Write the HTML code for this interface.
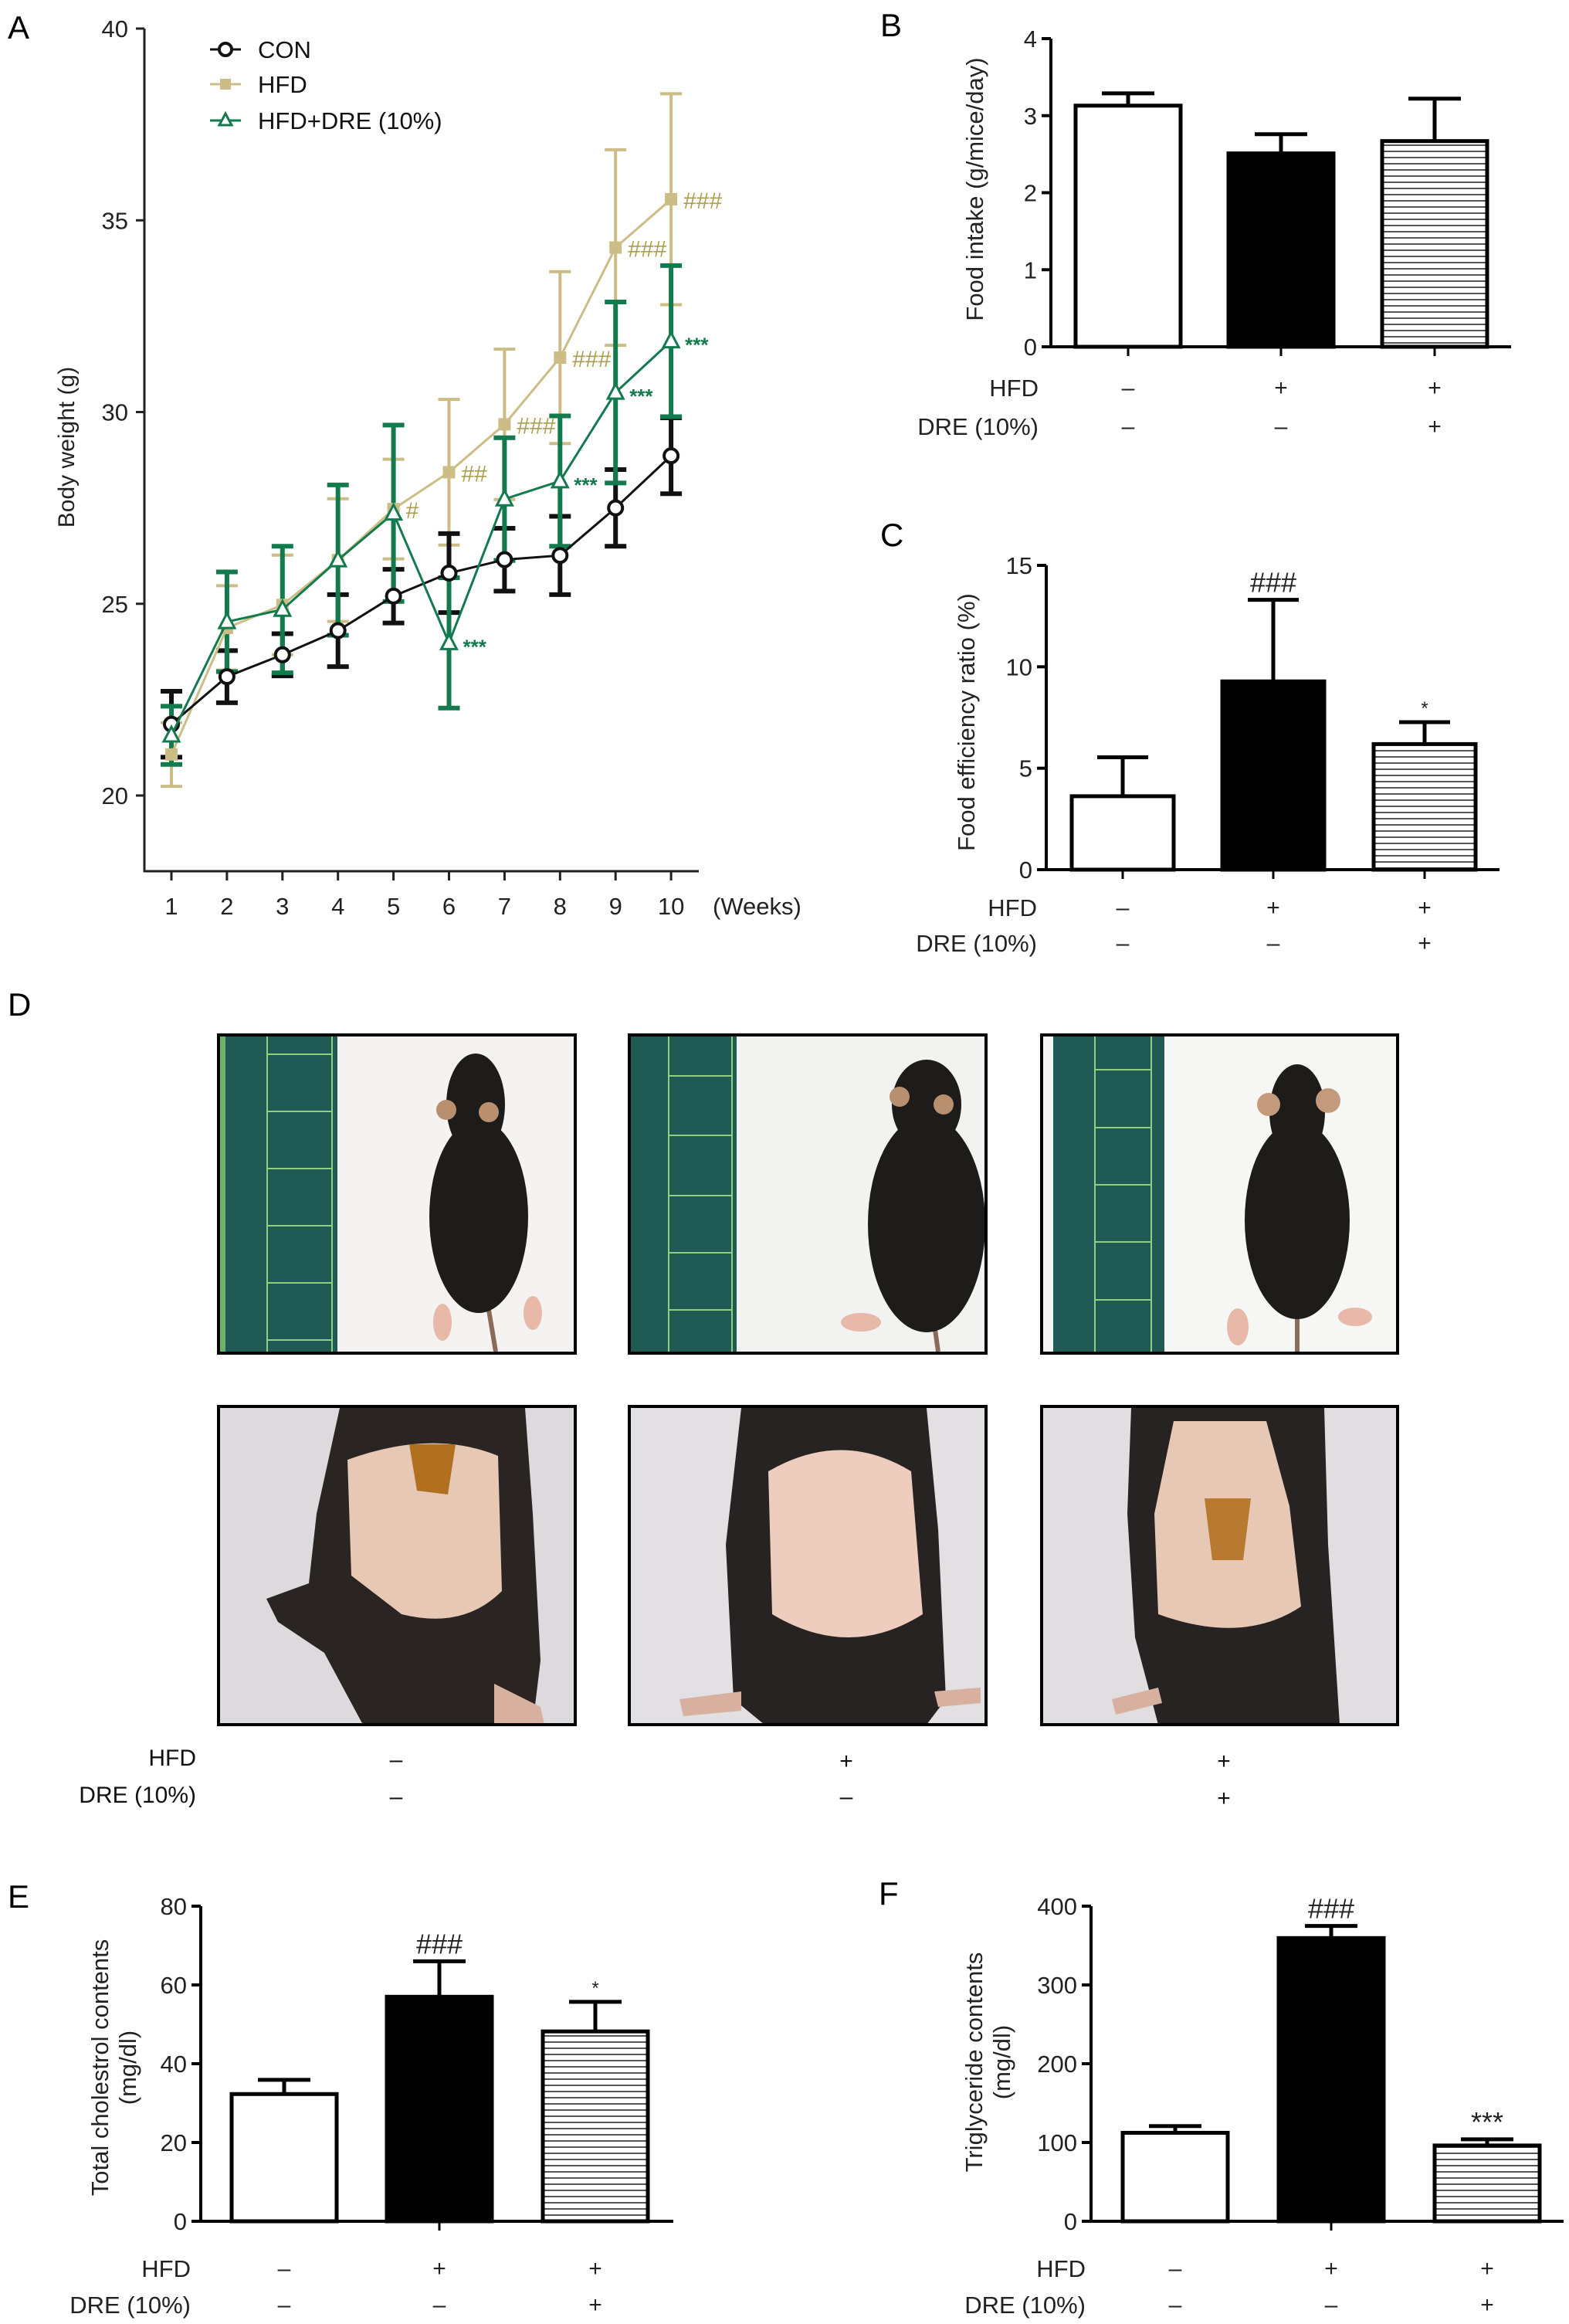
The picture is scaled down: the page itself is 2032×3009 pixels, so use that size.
<!DOCTYPE html>
<html><head><meta charset="utf-8"><style>
html,body{margin:0;padding:0;background:#fff;}
svg{display:block;font-family:"Liberation Sans",Arial,sans-serif;}
</style></head><body>
<svg id="fig" width="2032" height="3009" viewBox="0 0 2032 3009" xmlns="http://www.w3.org/2000/svg">
<defs>
<pattern id="hatch" patternUnits="userSpaceOnUse" width="10" height="8"><rect width="10" height="8" fill="#fff"/><line x1="0" y1="4" x2="10" y2="4" stroke="#555" stroke-width="2"/></pattern>
</defs>
<rect width="2032" height="3009" fill="#fff"/>
<!-- Panel letters -->
<text x="10" y="50" font-size="42">A</text>
<text x="1140" y="47" font-size="42">B</text>
<text x="1140" y="707" font-size="42">C</text>
<text x="10" y="1315" font-size="42">D</text>
<text x="10" y="2470" font-size="42">E</text>
<text x="1138" y="2466" font-size="42">F</text>

<g id="panelA"></g>
<g id="panelB"></g>
<g id="panelC"></g>
<g id="panelE"></g>
<g id="panelF"></g>

<!-- Panel D photos -->
<g>
  <g>
    <rect x="283" y="1340" width="462" height="412" fill="#f4f3f1"/>
    <rect x="285" y="1342" width="152" height="408" fill="#1f5a55"/>
    <rect x="285" y="1342" width="7" height="408" fill="#6fb36a"/>
    <line x1="346" y1="1342" x2="346" y2="1750" stroke="#8fd080" stroke-width="2"/>
    <line x1="430" y1="1342" x2="430" y2="1750" stroke="#8fd080" stroke-width="2"/>
    <g stroke="#8fd080" stroke-width="2"><line x1="346" y1="1365" x2="430" y2="1365"/><line x1="346" y1="1439" x2="430" y2="1439"/><line x1="346" y1="1513" x2="430" y2="1513"/><line x1="346" y1="1587" x2="430" y2="1587"/><line x1="346" y1="1661" x2="430" y2="1661"/><line x1="346" y1="1735" x2="430" y2="1735"/></g>
    <line x1="632" y1="1690" x2="642" y2="1750" stroke="#8a6a5a" stroke-width="6"/>
    <ellipse cx="573" cy="1712" rx="12" ry="24" fill="#e8b8a8"/><ellipse cx="690" cy="1700" rx="12" ry="22" fill="#e8b8a8"/>
    <ellipse cx="620" cy="1575" rx="64" ry="125" fill="#1e1b1b"/>
    <ellipse cx="616" cy="1430" rx="38" ry="66" fill="#1e1b1b"/>
    <circle cx="578" cy="1437" r="13" fill="#b89070"/><circle cx="633" cy="1440" r="13" fill="#b89070"/>
    <rect x="283" y="1340" width="462" height="412" fill="none" stroke="#000" stroke-width="4"/>
  </g>
  <g>
    <rect x="815" y="1340" width="462" height="412" fill="#f2f2f0"/>
    <rect x="817" y="1342" width="137" height="408" fill="#1f5a55"/>
    <line x1="866" y1="1342" x2="866" y2="1750" stroke="#8fd080" stroke-width="2"/>
    <line x1="948" y1="1342" x2="948" y2="1750" stroke="#8fd080" stroke-width="2"/>
    <g stroke="#8fd080" stroke-width="2"><line x1="866" y1="1393" x2="948" y2="1393"/><line x1="866" y1="1470" x2="948" y2="1470"/><line x1="866" y1="1548" x2="948" y2="1548"/><line x1="866" y1="1622" x2="948" y2="1622"/><line x1="866" y1="1696" x2="948" y2="1696"/></g>
    <line x1="1208" y1="1700" x2="1215" y2="1750" stroke="#8a6a5a" stroke-width="6"/>
    <ellipse cx="1115" cy="1712" rx="26" ry="12" fill="#e8b8a8"/>
    <ellipse cx="1200" cy="1585" rx="76" ry="140" fill="#1e1b1b"/>
    <ellipse cx="1200" cy="1430" rx="45" ry="58" fill="#1e1b1b"/>
    <circle cx="1165" cy="1420" r="13" fill="#b89070"/><circle cx="1222" cy="1430" r="13" fill="#b89070"/>
    <rect x="815" y="1340" width="462" height="412" fill="none" stroke="#000" stroke-width="4"/>
  </g>
  <g>
    <rect x="1349" y="1340" width="461" height="412" fill="#f6f6f4"/>
    <rect x="1364" y="1342" width="144" height="408" fill="#1f5a55"/>
    <line x1="1418" y1="1342" x2="1418" y2="1750" stroke="#8fd080" stroke-width="2"/>
    <line x1="1491" y1="1342" x2="1491" y2="1750" stroke="#8fd080" stroke-width="2"/>
    <g stroke="#8fd080" stroke-width="2"><line x1="1418" y1="1385" x2="1491" y2="1385"/><line x1="1418" y1="1460" x2="1491" y2="1460"/><line x1="1418" y1="1534" x2="1491" y2="1534"/><line x1="1418" y1="1608" x2="1491" y2="1608"/><line x1="1418" y1="1683" x2="1491" y2="1683"/></g>
    <line x1="1680" y1="1700" x2="1680" y2="1750" stroke="#8a6a5a" stroke-width="6"/>
    <ellipse cx="1603" cy="1718" rx="14" ry="24" fill="#e8b8a8"/><ellipse cx="1755" cy="1705" rx="22" ry="12" fill="#e8b8a8"/>
    <ellipse cx="1680" cy="1580" rx="68" ry="128" fill="#1e1b1b"/>
    <ellipse cx="1680" cy="1440" rx="36" ry="62" fill="#1e1b1b"/>
    <circle cx="1643" cy="1430" r="15" fill="#c49a7c"/><circle cx="1720" cy="1425" r="16" fill="#c49a7c"/>
    <rect x="1349" y="1340" width="461" height="412" fill="none" stroke="#000" stroke-width="4"/>
  </g>
  <g>
    <rect x="283" y="1821" width="462" height="412" fill="#dcdadd"/>
    <path d="M440,1823 L680,1823 L690,1960 L700,2150 L690,2233 L470,2233 L420,2140 L360,2100 L345,2070 L400,2050 L410,1960 Z" fill="#2a2422"/>
    <path d="M640,2180 L700,2210 L705,2233 L640,2233 Z" fill="#d8b0a0"/>
    <path d="M450,1890 Q560,1850 645,1885 L650,2060 Q600,2110 520,2090 L455,2040 Z" fill="#e6c8b4"/>
    <path d="M530,1870 L590,1870 L580,1935 L540,1930 Z" fill="#b07020"/>
    <rect x="283" y="1821" width="462" height="412" fill="none" stroke="#000" stroke-width="4"/>
  </g>
  <g>
    <rect x="815" y="1821" width="462" height="412" fill="#e2e0e2"/>
    <path d="M960,1823 L1200,1823 L1215,1980 L1225,2200 L1200,2233 L990,2233 L950,2200 L940,2000 Z" fill="#262322"/>
    <path d="M880,2200 L960,2190 L960,2215 L885,2222 Z" fill="#d8b0a0"/><path d="M1210,2190 L1270,2185 L1270,2205 L1215,2210 Z" fill="#d8b0a0"/>
    <path d="M995,1905 Q1090,1850 1180,1905 L1195,2090 Q1100,2150 1000,2090 Z" fill="#efcdbe"/>
    <rect x="815" y="1821" width="462" height="412" fill="none" stroke="#000" stroke-width="4"/>
  </g>
  <g>
    <rect x="1349" y="1821" width="461" height="412" fill="#e0dee0"/>
    <path d="M1465,1823 L1715,1823 L1720,2000 L1735,2233 L1500,2233 L1470,2120 L1460,1960 Z" fill="#262322"/>
    <path d="M1440,2200 L1500,2185 L1505,2205 L1445,2220 Z" fill="#d8b0a0"/>
    <path d="M1520,1840 L1640,1840 L1670,1950 L1685,2080 Q1610,2130 1500,2090 L1495,1960 Z" fill="#e6c8b4"/>
    <path d="M1560,1940 L1620,1940 L1610,2020 L1570,2020 Z" fill="#b87a30"/>
    <rect x="1349" y="1821" width="461" height="412" fill="none" stroke="#000" stroke-width="4"/>
  </g>
  <g font-size="30" fill="#111">
    <text x="254" y="2286" text-anchor="end">HFD</text>
    <text x="254" y="2334" text-anchor="end">DRE (10%)</text>
    <text x="513" y="2288" text-anchor="middle">–</text>
    <text x="1096" y="2290" text-anchor="middle">+</text>
    <text x="1585" y="2290" text-anchor="middle">+</text>
    <text x="513" y="2336" text-anchor="middle">–</text>
    <text x="1096" y="2336" text-anchor="middle">–</text>
    <text x="1585" y="2338" text-anchor="middle">+</text>
  </g>
</g>
</svg>
<script>
// ---------- Panel A data ----------
const weeks = [1,2,3,4,5,6,7,8,9,10];
const yTicksA = [20,25,30,35,40];
const conMean = [21.86,23.1,23.67,24.3,25.2,25.8,26.15,26.26,27.5,28.86];
const conErr  = [0.86,0.68,0.55,0.94,0.7,1.03,0.82,1.02,1.0,0.99];
const hfdMean = [21.07,24.37,24.97,26.14,27.47,28.43,29.68,31.42,34.29,35.55];
const hfdErr  = [0.83,1.1,1.3,1.6,1.3,1.9,1.96,2.24,2.55,2.75];
const dreMean = [21.57,24.53,24.85,26.14,27.36,23.98,27.73,28.2,30.51,31.85];
const dreErr  = [0.76,1.3,1.65,1.96,2.3,1.7,1.6,1.7,2.36,1.97];
const hfdSig  = ["","","","","#","##","###","###","###","###"];
const dreSig  = ["","","","","","***","","***","***","***"];

// ---------- Bar chart data ----------
const groups = ["CON","HFD","HFD+DRE"];
const hfdSigns = ["–","+","+"];
const dreSigns = ["–","–","+"];
const bVals = [3.13,2.51,2.67];
const bErrs = [0.16,0.25,0.55];
const bTicks = [0,1,2,3,4];
const cVals = [3.62,9.28,6.19];
const cErrs = [1.92,4.02,1.08];
const cTicks = [0,5,10,15];
const cSig = ["","###","*"];
const eVals = [32.3,57.0,48.2];
const eErrs = [3.6,9.0,7.5];
const eTicks = [0,20,40,60,80];
const eSig = ["","###","*"];
const fVals = [112.3,359.5,96.2];
const fErrs = [8.5,15.4,7.8];
const fTicks = [0,100,200,300,400];
const fSig = ["","###","***"];

const NS = "http://www.w3.org/2000/svg";
function el(tag, parent){ const e = document.createElementNS(NS, tag); parent.appendChild(e); return e; }
function set(e, o){ for (const k in o) e.setAttribute(k, o[k]); return e; }

// ---------- Panel A ----------
(function(){
  const g = document.getElementById('panelA');
  const xA = w => 222 + (w-1)*71.9;
  const yA = v => 1030 - (v-20)*49.65;
  let e = el('line', g); set(e,{x1:187,y1:yA(40),x2:187,y2:1129,stroke:'#222','stroke-width':3});
  
  
  e = el('line', g); set(e,{x1:186,y1:1128,x2:905,y2:1128,stroke:'#222','stroke-width':3});
  
  
  yTicksA.forEach(t=>{
    let l = el('line', g); set(l,{x1:176,y1:yA(t),x2:187,y2:yA(t),stroke:'#222','stroke-width':3});
    
    
    let tx = el('text', g); set(tx,{x:166,y:yA(t)+11,'text-anchor':'end','font-size':31,fill:'#222'}); tx.textContent = t;
    
    
  });
  weeks.forEach(w=>{
    let l = el('line', g); set(l,{x1:xA(w),y1:1128,x2:xA(w),y2:1140,stroke:'#222','stroke-width':3});
    
    
    let tx = el('text', g); set(tx,{x:xA(w),y:1184,'text-anchor':'middle','font-size':31,fill:'#222'}); tx.textContent = w;
    
    
  });
  let wt = el('text', g); set(wt,{x:923,y:1184,'font-size':31,fill:'#222'}); wt.textContent='(Weeks)';
  
  
  let yt = el('text', g); set(yt,{x:0,y:0,transform:'translate(96,579) rotate(-90)','text-anchor':'middle','font-size':30,fill:'#222'}); yt.textContent='Body weight (g)';
  
  

  const series = [
    {name:'hfd', mean:hfdMean, err:hfdErr, color:'#cbbd85', ew:4, lw:3},
    {name:'con', mean:conMean, err:conErr, color:'#111', ew:6, lw:3},
    {name:'dre', mean:dreMean, err:dreErr, color:'#137a4e', ew:6, lw:3}
  ];
  series.forEach(s=>{
    s.mean.forEach((m,i)=>{
      const x = xA(weeks[i]);
      let b = el('path', g);
      set(b,{d:`M${x},${yA(m-s.err[i])}V${yA(m+s.err[i])}M${x-14},${yA(m-s.err[i])}H${x+14}M${x-14},${yA(m+s.err[i])}H${x+14}`,stroke:s.color,'stroke-width':s.ew,fill:'none'});
      
      
    });
  });
  series.forEach(s=>{
    let p = el('polyline', g);
    set(p,{points:s.mean.map((m,i)=>xA(weeks[i])+','+yA(m)).join(' '),fill:'none',stroke:s.color,'stroke-width':s.lw});
    
    
    s.mean.forEach((m,i)=>{
      const x = xA(weeks[i]), y = yA(m);
      let mk;
      if (s.name==='con'){ mk = el('circle', g); set(mk,{cx:x,cy:y,r:9,fill:'#fff',stroke:'#111','stroke-width':4}); }
      else if (s.name==='hfd'){ mk = el('rect', g); set(mk,{x:x-8,y:y-8,width:16,height:16,fill:'#cbbd85'}); }
      else { mk = el('path', g); set(mk,{d:`M${x},${y-11}L${x+10},${y+8}L${x-10},${y+8}Z`,fill:'#fff',stroke:'#137a4e','stroke-width':3}); }
      
      
    });
  });
  hfdSig.forEach((t,i)=>{
    if(!t) return;
    let tx = el('text', g); set(tx,{x:xA(weeks[i])+16,y:yA(hfdMean[i])+12,'font-size':30,fill:'#ad9d50'}); tx.textContent=t;
    
    
  });
  dreSig.forEach((t,i)=>{
    if(!t) return;
    let tx = el('text', g); set(tx,{x:xA(weeks[i])+18,y:yA(dreMean[i])+14,'font-size':26,'font-weight':'bold',fill:'#137a4e'}); tx.textContent=t;
    
    
  });
  // legend
  const leg = [['CON','con',64],['HFD','hfd',109],['HFD+DRE (10%)','dre',156]];
  leg.forEach(L=>{
    const col = L[1]==='con'?'#111':(L[1]==='hfd'?'#cbbd85':'#137a4e');
    let ln = el('line', g); set(ln,{x1:272,y1:L[2],x2:312,y2:L[2],stroke:col,'stroke-width':3});
    
    
    let mk;
    if(L[1]==='con'){ mk=el('circle',g); set(mk,{cx:292,cy:L[2],r:8,fill:'#fff',stroke:'#111','stroke-width':4}); }
    else if(L[1]==='hfd'){ mk=el('rect',g); set(mk,{x:285,y:L[2]-7,width:14,height:14,fill:'#cbbd85'}); }
    else { mk=el('path',g); set(mk,{d:`M292,${L[2]-9}L300,${L[2]+6}L284,${L[2]+6}Z`,fill:'#fff',stroke:'#137a4e','stroke-width':3}); }
    
    
    let tx = el('text', g); set(tx,{x:334,y:L[2]+11,'font-size':31,fill:'#111'}); tx.textContent=L[0];
    
    
  });
})();

// ---------- Bar charts ----------
function barChart(cfg){
  const g = document.getElementById(cfg.id);
  const span = cfg.ticks[cfg.ticks.length-1];
  const y = v => cfg.y0 - v/span*(cfg.y0-cfg.yTop);
  const fills = ['#fff','#000','url(#hatch)'];
  let e = el('line', g); set(e,{x1:cfg.ax,y1:cfg.yTop,x2:cfg.ax,y2:cfg.y0,stroke:'#000','stroke-width':4});
  
  
  e = el('line', g); set(e,{x1:cfg.axStart,y1:cfg.y0,x2:cfg.axEnd,y2:cfg.y0,stroke:'#000','stroke-width':4});
  
  
  cfg.ticks.forEach(t=>{
    let l = el('line', g); set(l,{x1:cfg.ax-12,y1:y(t),x2:cfg.ax,y2:y(t),stroke:'#000','stroke-width':4});
    
    
    let tx = el('text', g); set(tx,{x:cfg.ax-18,y:y(t)+11,'text-anchor':'end','font-size':31,fill:'#222'}); tx.textContent=t;
    
    
  });
  cfg.vals.forEach((v,i)=>{
    const x0 = cfg.bx[i], w = cfg.bw, cx = x0 + w/2;
    let eb = el('path', g);
    set(eb,{d:`M${cx},${y(v)}V${y(v+cfg.errs[i])}M${cx-w*0.25},${y(v+cfg.errs[i])}H${cx+w*0.25}`,stroke:'#000','stroke-width':5,fill:'none'});
    
    
    let r = el('rect', g); set(r,{x:x0,y:y(v),width:w,height:cfg.y0-y(v),fill:fills[i],stroke:'#000','stroke-width':5});
    
    
    if (cfg.allTicks || i===1){
      let t = el('line', g); set(t,{x1:cx,y1:cfg.y0,x2:cx,y2:cfg.y0+12,stroke:'#000','stroke-width':3});
      
      
    }
    if (cfg.sig && cfg.sig[i]){
      let s = el('text', g); set(s,{x:cx,y:y(v+cfg.errs[i])-10,'text-anchor':'middle','font-size':cfg.sig[i]==='*'?24:36,fill:'#222'}); s.textContent=cfg.sig[i];
      
      
    }
    let h = el('text', g); set(h,{x:cx,y:cfg.rowH+10,'text-anchor':'middle','font-size':30,fill:'#222'}); h.textContent=hfdSigns[i];
    
    
    let d = el('text', g); set(d,{x:cx,y:cfg.rowD+10,'text-anchor':'middle','font-size':30,fill:'#222'}); d.textContent=dreSigns[i];
    
    
  });
  let hl = el('text', g); set(hl,{x:cfg.labelRight,y:cfg.rowH+11,'text-anchor':'end','font-size':31,fill:'#222'}); hl.textContent='HFD';
  
  
  let dl = el('text', g); set(dl,{x:cfg.labelRight,y:cfg.rowD+11,'text-anchor':'end','font-size':31,fill:'#222'}); dl.textContent='DRE (10%)';
  
  
  cfg.title.forEach((line,k)=>{
    let t = el('text', g); set(t,{x:0,y:0,transform:`translate(${cfg.titleX+k*36},${cfg.titleY}) rotate(-90)`,'text-anchor':'middle','font-size':31,fill:'#222'}); t.textContent=line;
    
    
  });
}
barChart({id:'panelB',vals:bVals,errs:bErrs,ticks:bTicks,ax:1361,axStart:1351,axEnd:1957,yTop:50,y0:449,bx:[1393,1591,1790],bw:136,rowH:502,rowD:552,labelRight:1345,title:['Food intake (g/mice/day)'],titleX:1273,titleY:245,allTicks:true});
barChart({id:'panelC',vals:cVals,errs:cErrs,ticks:cTicks,ax:1355,axStart:1345,axEnd:1942,yTop:732,y0:1126,bx:[1388,1583,1779],bw:132,rowH:1175,rowD:1221,labelRight:1343,title:['Food efficiency ratio (%)'],titleX:1262,titleY:935,sig:cSig,allTicks:true});
barChart({id:'panelE',vals:eVals,errs:eErrs,ticks:eTicks,ax:260,axStart:254,axEnd:872,yTop:2468,y0:2876,bx:[300,501,703],bw:136,rowH:2937,rowD:2984,labelRight:247,title:['Total cholestrol contents','(mg/dl)'],titleX:140,titleY:2677,sig:eSig,allTicks:false});
barChart({id:'panelF',vals:fVals,errs:fErrs,ticks:fTicks,ax:1413,axStart:1406,axEnd:2025,yTop:2468,y0:2876,bx:[1454,1656,1858],bw:136,rowH:2937,rowD:2984,labelRight:1406,title:['Triglyceride contents','(mg/dl)'],titleX:1272,titleY:2670,sig:fSig,allTicks:false});
</script>
</body></html>
